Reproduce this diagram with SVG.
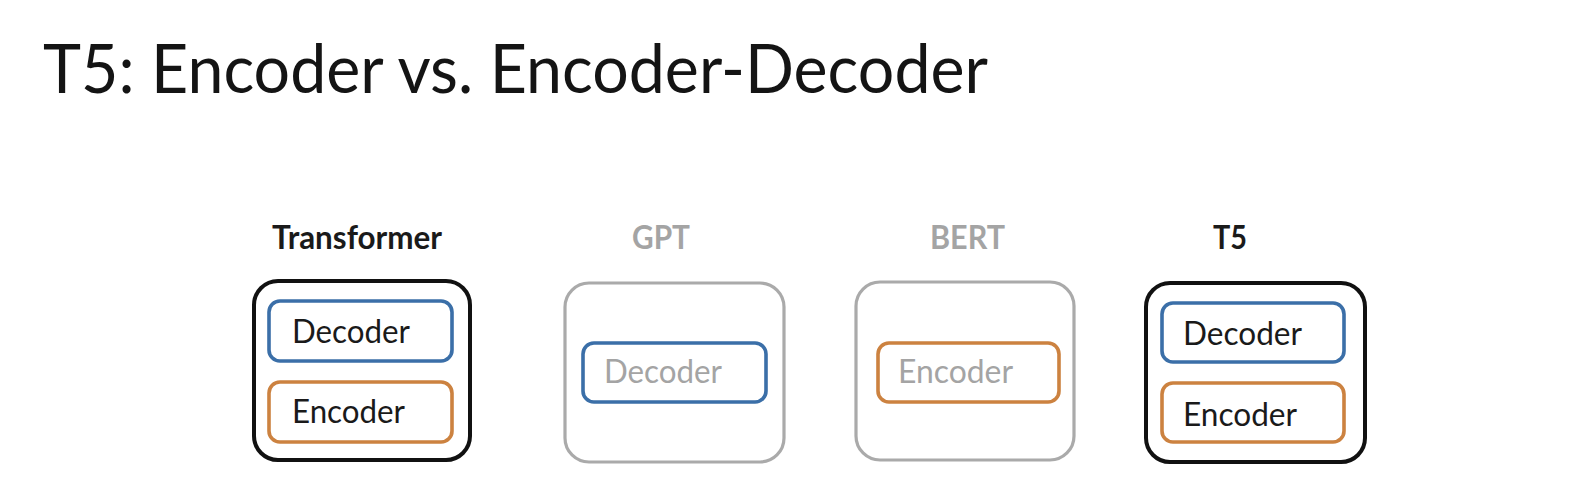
<svg xmlns="http://www.w3.org/2000/svg" width="1594" height="495" viewBox="0 0 1594 495">
<style>
text{font-family:Lato,"Open Sans","Liberation Sans",sans-serif}
.title{font-size:67px;fill:#141414}
.lbl{font-size:32px;font-weight:bold}
.in{font-size:32px}
.dark{fill:#1a1a1a}
.grey{fill:#a4a4a4}
.outerK{fill:#fff;stroke:#111;stroke-width:4}
.outerG{fill:#fff;stroke:#aaa;stroke-width:3.2}
.dec{fill:#fff;stroke:#3b6fa8;stroke-width:3.6}
.enc{fill:#fff;stroke:#cc8240;stroke-width:3.6}
</style>
<rect width="1594" height="495" fill="#fff"/>
<text class="title" x="43" y="93" textLength="945" lengthAdjust="spacingAndGlyphs">T5: Encoder vs. Encoder-Decoder</text>
<g id="transformer">
<text class="lbl dark" x="272" y="249" textLength="170" lengthAdjust="spacingAndGlyphs">Transformer</text>
<rect class="outerK" x="254" y="281" width="216" height="179" rx="24"/>
<rect class="dec" x="269" y="301" width="183" height="60" rx="11"/>
<text class="in dark" x="292" y="343" textLength="118" lengthAdjust="spacingAndGlyphs">Decoder</text>
<rect class="enc" x="269" y="382" width="183" height="60" rx="11"/>
<text class="in dark" x="292" y="423" textLength="113" lengthAdjust="spacingAndGlyphs">Encoder</text>
</g>
<g id="gpt">
<text class="lbl grey" x="632" y="249" textLength="58" lengthAdjust="spacingAndGlyphs">GPT</text>
<rect class="outerG" x="565" y="283" width="219" height="179" rx="24"/>
<rect class="dec" x="583" y="343" width="183" height="59" rx="11"/>
<text class="in grey" x="604" y="383" textLength="118" lengthAdjust="spacingAndGlyphs">Decoder</text>
</g>
<g id="bert">
<text class="lbl grey" x="930" y="249" textLength="75" lengthAdjust="spacingAndGlyphs">BERT</text>
<rect class="outerG" x="856" y="282" width="218" height="178" rx="24"/>
<rect class="enc" x="878" y="343" width="181" height="59" rx="11"/>
<text class="in grey" x="898" y="383" textLength="115" lengthAdjust="spacingAndGlyphs">Encoder</text>
</g>
<g id="t5">
<text class="lbl dark" x="1213" y="249" textLength="34" lengthAdjust="spacingAndGlyphs">T5</text>
<rect class="outerK" x="1146" y="283" width="219" height="179" rx="24"/>
<rect class="dec" x="1162" y="303" width="182" height="59" rx="11"/>
<text class="in dark" x="1183" y="345" textLength="119" lengthAdjust="spacingAndGlyphs">Decoder</text>
<rect class="enc" x="1162" y="383" width="182" height="59" rx="11"/>
<text class="in dark" x="1183" y="426" textLength="114" lengthAdjust="spacingAndGlyphs">Encoder</text>
</g>
<g id="connectors"></g>
</svg>
